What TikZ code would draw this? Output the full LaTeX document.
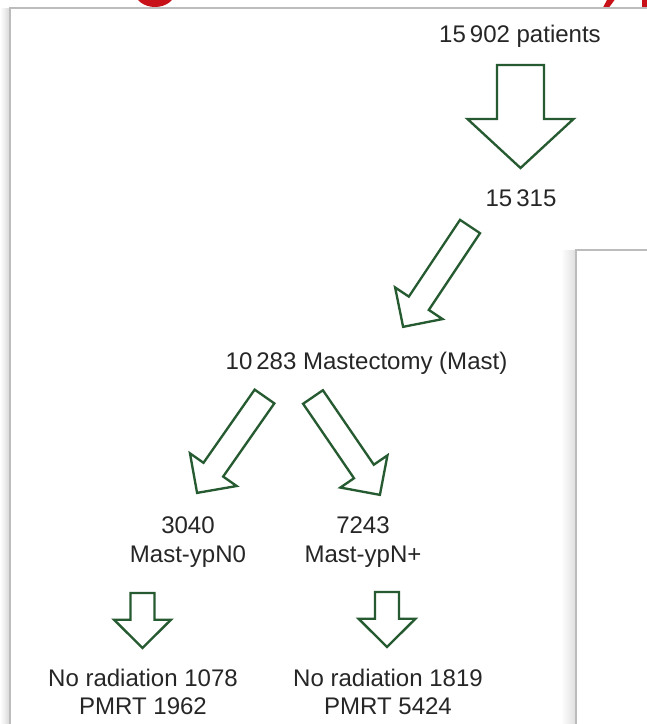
\documentclass[tikz,border=0pt]{standalone}
\usepackage{fontspec}
\setmainfont{Liberation Sans}
\usepackage{tikz}
\usetikzlibrary{calc}
\usepackage{xcolor}
\definecolor{arrowgreen}{RGB}{38,90,48}
\definecolor{framegray}{RGB}{188,188,188}
\definecolor{titlered}{RGB}{200,16,24}

\begin{document}
\begin{tikzpicture}[
    x=0.03cm, y=-0.03cm,
    count/.style={anchor=base, text=black!85, inner sep=0pt, font=\fontsize{20.5}{24.5}\selectfont},
    group/.style={count, anchor=center, align=center},
    panel/.style={draw=framegray, line width=1.5pt, fill=white},
    fatarrow/.style args={#1/#2/#3}{draw=arrowgreen, line width=2pt, line join=miter, to path={
        let \p1=(\tikztostart), \p2=(\tikztotarget),
            \n1={atan2(\y2-\y1,\x2-\x1)}, \n2={veclen(\x2-\x1,\y2-\y1)} in
        {[shift={(\p1)}, rotate=\n1]
        (0pt,-#1) -- ({\n2-#3},-#1) -- ({\n2-#3},-#2) -- ({\n2+0pt},0pt)
        -- ({\n2-#3},#2) -- ({\n2-#3},#1) -- (0pt,#1) -- cycle}}},
    small/.style={fatarrow={0.36cm/0.855cm/0.85cm}},
    big/.style={fatarrow={0.705cm/1.59cm/1.47cm}}
]
\useasboundingbox (0,0) rectangle (647,724);
\clip (0,0) rectangle (647,724);
\fill[white] (0,0) rectangle (647,724);

% Title remains above the panel
\fill[titlered] (155,-10) ellipse [x radius=21, y radius=17];
\fill[titlered] (608,-2) -- (616,-2) -- (609,7.5) -- (603,7.5) -- cycle;
\fill[titlered] (642,-2) rectangle (648,7.5);

% Panels
\shade[left color=white, right color=black!16] (0,8) rectangle (10,724);
\draw[panel] (10,8) rectangle (700,760);
\shade[left color=white, right color=black!13] (561,250) rectangle (576,724);
\draw[panel] (576,250) rectangle (700,760);

% Nodes
\node[count] (total) at (520,42) {15\,902 patients};
\node[count] (eligible) at (521,206) {15\,315};
\node[count] (mast) at (366.5,369) {10\,283 Mastectomy (Mast)};
\node[group] (ypn0) at (188,542) {3040\\Mast-ypN0};
\node[group] (ypnpos) at (363,542) {7243\\Mast-ypN+};
\node[group] (rtneg) at (143,692) {No radiation 1078\\PMRT 1962};
\node[group] (rtpos) at (388,692) {No radiation 1819\\PMRT 5424};

% Arrow ends
\coordinate (a0s) at (520.5,65);    \coordinate (a0t) at (520.5,168);
\coordinate (a1s) at (470,226.5);   \coordinate (a1t) at (403,327);
\coordinate (a2s) at (264.5,396.5); \coordinate (a2t) at (197,493);
\coordinate (a3s) at (313,397);     \coordinate (a3t) at (380,495);
\coordinate (a4s) at (142.5,593);   \coordinate (a4t) at (142.5,648);
\coordinate (a5s) at (387,592);     \coordinate (a5t) at (387,647);

% Arrows
\draw[big] (a0s) to (a0t);
\draw[small] (a1s) to (a1t);
\draw[small] (a2s) to (a2t);
\draw[small] (a3s) to (a3t);
\draw[small] (a4s) to (a4t);
\draw[small] (a5s) to (a5t);

\end{tikzpicture}
\end{document}
